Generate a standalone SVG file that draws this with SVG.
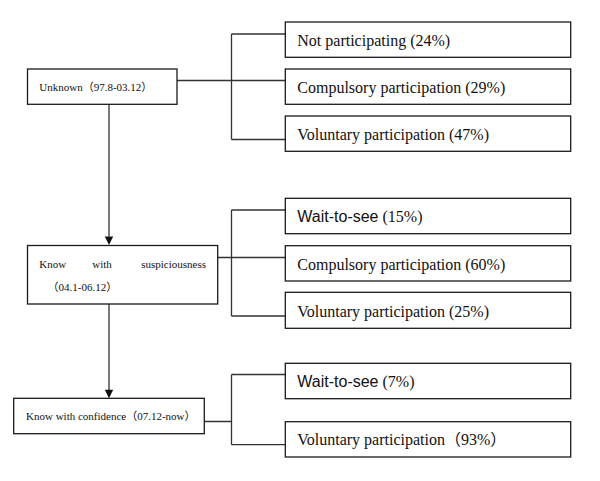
<svg xmlns="http://www.w3.org/2000/svg" width="600" height="481" viewBox="0 0 600 481">
<defs>
<style>
.box{fill:#fff;stroke:#1a1a1a;stroke-width:1.3}
.ln{fill:none;stroke:#333;stroke-width:1.3}
.s{font-family:"Liberation Serif","Noto Sans CJK SC",serif;font-size:11px;fill:#111}
.t{font-family:"Liberation Serif","Noto Sans CJK SC",serif;font-size:16px;fill:#111}
.a{font-family:"Liberation Sans",Arial,sans-serif}
</style>
<marker id="arr" markerUnits="userSpaceOnUse" markerWidth="9" markerHeight="10" refX="4.5" refY="9" orient="auto-start-reverse" viewBox="0 0 9 10">
<path d="M0.5,0.5 L8.5,0.5 L4.5,9 Z" fill="#111"/>
</marker>
</defs>
<rect width="600" height="481" fill="#fff"/>
<g id="connectors">
<path class="ln" d="M177,80.5 H285.3 M231.5,34 V139.5 M231.5,34 H285.3 M231.5,139.5 H285.3"/>
<path class="ln" d="M217.7,257.5 H285.3 M231.5,210 V316 M231.5,210 H285.3 M231.5,316 H285.3"/>
<path class="ln" d="M204.3,421.5 H231.5 M231.5,374.5 V444.7 M231.5,374.5 H285.3 M231.5,444.7 H285.3"/>
<line class="ln" x1="109" y1="104.3" x2="109" y2="236.5"/>
<path d="M104.8,236.5 L113.2,236.5 L109,245 Z" fill="#111"/>
<line class="ln" x1="109" y1="304" x2="109" y2="390"/>
<path d="M104.8,389.8 L113.2,389.8 L109,398.3 Z" fill="#111"/>
</g>
<g id="n-unknown">
<rect class="box" x="27.5" y="69" width="149.5" height="35.3"/>
<text class="s" x="39.3" y="91">Unknown（97.8-03.12）</text>
</g>
<g id="n-suspicious">
<rect class="box" x="27.5" y="245.5" width="190.2" height="58.5"/>
<text class="s" x="39.3" y="267.5">Know</text>
<text class="s" x="92.3" y="267.5">with</text>
<text class="s" x="206" y="267.5" text-anchor="end">suspiciousness</text>
<text class="s" x="47.5" y="291">（04.1-06.12）</text>
</g>
<g id="n-confidence">
<rect class="box" x="13.7" y="398.3" width="190.6" height="35.4"/>
<text class="s" x="26" y="420">Know with confidence（07.12-now）</text>
</g>
<g id="r1">
<rect class="box" x="285.3" y="22" width="285.4" height="35.3"/>
<text class="t" x="297.3" y="46">Not participating (24%)</text>
</g>
<g id="r2">
<rect class="box" x="285.3" y="69" width="285.4" height="35.3"/>
<text class="t" x="297.3" y="92.7">Compulsory participation (29%)</text>
</g>
<g id="r3">
<rect class="box" x="285.3" y="116" width="285.4" height="35.3"/>
<text class="t" x="297.3" y="140">Voluntary participation (47%)</text>
</g>
<g id="r4">
<rect class="box" x="285.3" y="198.3" width="285.4" height="35.4"/>
<text class="t" x="297.3" y="222.3"><tspan class="a">Wait-to-see</tspan> (15%)</text>
</g>
<g id="r5">
<rect class="box" x="285.3" y="245.7" width="285.4" height="35.3"/>
<text class="t" x="297.3" y="269.7">Compulsory participation (60%)</text>
</g>
<g id="r6">
<rect class="box" x="285.3" y="292.3" width="285.4" height="36"/>
<text class="t" x="297.3" y="316.7">Voluntary participation (25%)</text>
</g>
<g id="r7">
<rect class="box" x="285.3" y="363.3" width="285.4" height="35.4"/>
<text class="t" x="297.3" y="386.7"><tspan class="a">Wait-to-see</tspan> (7%)</text>
</g>
<g id="r8">
<rect class="box" x="285.3" y="421.7" width="285.4" height="35.3"/>
<text class="t" x="297.3" y="445">Voluntary participation（93%）</text>
</g>
</svg>
